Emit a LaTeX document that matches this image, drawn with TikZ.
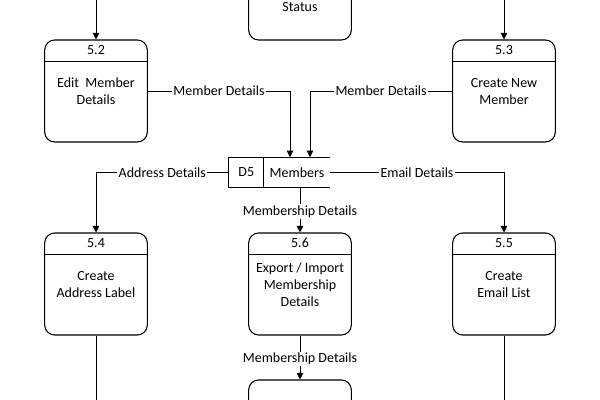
\documentclass[tikz,border=0pt]{standalone}
\usepackage{fontspec}
\setmainfont{Carlito}
\usetikzlibrary{arrows.meta,positioning}

\tikzset{
  proc/.style={draw, line width=0.8pt, rounded corners=7.5pt, minimum width=77pt, minimum height=76.5pt},
  hdr/.style={line width=0.8pt},
  flow/.style={line width=0.75pt, -{Triangle[length=5pt,width=5pt]}},
  wire/.style={line width=0.75pt},
  lbl/.style={fill=white, inner sep=1pt},
  ptxt/.style={align=center},
  store/.style={inner sep=0pt, outer sep=0pt, minimum height=22.9pt},
}

\begin{document}
\begin{tikzpicture}[x=0.75pt, y=-0.75pt, font=\fontsize{10.5}{12.75}\selectfont]
    \clip (0,0) rectangle (600,400);
    % Process cut off at the top
    \node[proc] (p51) at (300,-11) {};
    \node (t51) at (300,7) {Status};
    % 5.2 and 5.3
    \node[proc] (p52) at (96,91) {};
    \draw[hdr] ([yshift=-16.5pt]p52.north west) -- ([yshift=-16.5pt]p52.north east);
    \node (n52) at ([yshift=-8pt]p52.north) {5.2};
    \node[ptxt] (t52) at ([yshift=-39pt]p52.north) {Edit\ \ Member\\Details};
    \node[proc] (p53) at (504,91) {};
    \draw[hdr] ([yshift=-16.5pt]p53.north west) -- ([yshift=-16.5pt]p53.north east);
    \node (n53) at ([yshift=-8pt]p53.north) {5.3};
    \node[ptxt] (t53) at ([yshift=-39pt]p53.north) {Create New\\Member};
    % Data store D5
    \node[store, draw, line width=0.75pt, minimum width=26.5pt] (d5) at (246.3,172.5) {D5};
    \node[store, minimum width=49.5pt, right=0pt of d5] (mem) {Members};
    \draw[wire] (mem.north west) -- (mem.north east);
    \draw[wire] (mem.south west) -- (mem.south east);
    % 5.4, 5.6 and 5.5
    \node[proc] (p54) at (96,284) {};
    \draw[hdr] ([yshift=-16.5pt]p54.north west) -- ([yshift=-16.5pt]p54.north east);
    \node (n54) at ([yshift=-8pt]p54.north) {5.4};
    \node[ptxt] (t54) at ([yshift=-39pt]p54.north) {Create\\Address Label};
    \node[proc] (p56) at (300,284) {};
    \draw[hdr] ([yshift=-16.5pt]p56.north west) -- ([yshift=-16.5pt]p56.north east);
    \node (n56) at ([yshift=-8pt]p56.north) {5.6};
    \node[ptxt] (t56) at ([yshift=-39pt]p56.north) {Export / Import\\Membership\\Details};
    \node[proc] (p55) at (504,284) {};
    \draw[hdr] ([yshift=-16.5pt]p55.north west) -- ([yshift=-16.5pt]p55.north east);
    \node (n55) at ([yshift=-8pt]p55.north) {5.5};
    \node[ptxt] (t55) at ([yshift=-39pt]p55.north) {Create\\Email List};
    % Process cut off at the bottom
    \node[proc] (p57) at (300,431) {};

    % Flows
    \coordinate (i52) at (96,0);
    \coordinate (i53) at (504,0);
    \coordinate (o54) at (96,400);
    \coordinate (o55) at (504,400);
    \coordinate (mtop) at (mem.north -| p56.north);
    \coordinate (mbot) at (mem.south -| p56.north);
    \draw[flow] (i52) -- (p52);
    \draw[flow] (i53) -- (p53);
    \draw[flow] (p52.east) -| ([xshift=-7.5pt]mtop) node[lbl, pos=0.25] {Member Details};
    \draw[flow] (p53.west) -| ([xshift=7.5pt]mtop) node[lbl, pos=0.25] {Member Details};
    \draw[flow] (d5.west) -| (p54.north) node[lbl, pos=0.25] {Address Details};
    \draw[flow] (mem.east) -| (p55.north) node[lbl, pos=0.25] {Email Details};
    \draw[flow] (mbot) -- (p56.north) node[lbl, midway, yshift=-1pt] {Membership Details};
    \draw[flow] (p56.south) -- (p57.north) node[lbl, midway, yshift=-1pt] {Membership Details};
    \draw[wire] (p54) -- (o54);
    \draw[wire] (p55) -- (o55);
\end{tikzpicture}
\end{document}
